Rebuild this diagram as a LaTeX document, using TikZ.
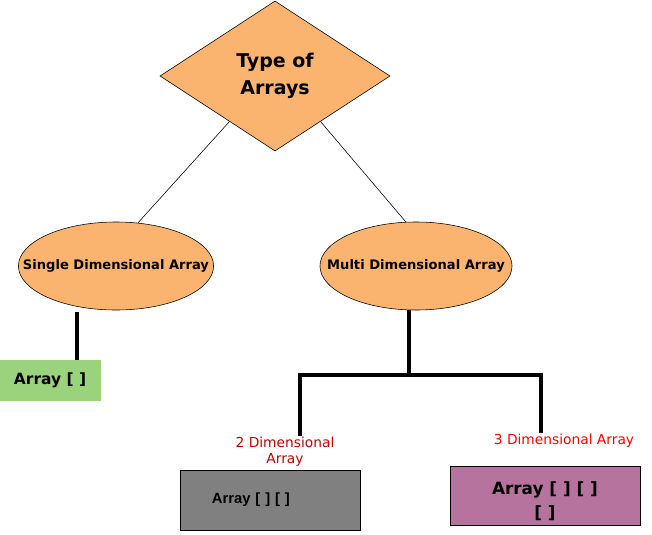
\documentclass[tikz,border=0pt]{standalone}
\usepackage{fontspec}
\setmainfont{DejaVu Sans}
\newfontfamily\boxfont{Liberation Sans}
\usetikzlibrary{shapes.geometric,positioning,calc}
\definecolor{headfill}{HTML}{FBB470}
\definecolor{onefill}{HTML}{9BD27C}
\definecolor{twofill}{HTML}{808080}
\definecolor{threefill}{HTML}{B5739D}
\definecolor{lbldark}{HTML}{C00000}
\definecolor{lblred}{HTML}{FF0000}

\begin{document}
\begin{tikzpicture}[
  x=0.025cm, y=-0.025cm,
  head/.style={
    draw, diamond, fill=headfill, aspect=1.53, inner sep=0pt,
    minimum width=5.75cm, minimum height=3.75cm, align=center,
    font=\fontsize{13.5}{19}\selectfont\bfseries},
  kind/.style={
    draw, ellipse, fill=headfill, inner ysep=0pt, inner xsep=-0.6cm,
    minimum width=4.8cm, minimum height=2.2cm,
    font=\fontsize{9.3}{11}\selectfont\bfseries},
  cell/.style={draw, align=center, inner sep=0pt},
  tag/.style={font=\fontsize{9.8}{11.5}\selectfont, align=center, inner sep=1pt},
  thin/.style={line width=0.4pt},
  bar/.style={line width=2.2pt},
]

\useasboundingbox (0,0) rectangle (652,534);

% ---------- top and the two kinds ----------
\node[head] (types) at (275,76) {Type of\\Arrays};
\node[kind] (single) at (116,266) {Single Dimensional Array};
\node[kind] (multi) at (416,266) {Multi Dimensional Array};

\draw[thin] (types.225) -- (single.63);
\draw[thin] (types.315) -- (multi.103);

% ---------- single dimensional ----------
\node[cell, fill=onefill, draw=onefill, minimum width=2.5cm, minimum height=1cm,
      font=\fontsize{11}{13}\selectfont\bfseries] (arr1) at (50,380) {Array [ ]};
\coordinate (sdrop) at (77,312);
\draw[bar] (sdrop) -- (sdrop |- arr1.north);

% ---------- multi dimensional ----------
\node[tag, text=lbldark] (lbl2) at (285,452) {2 Dimensional\\Array};
\node[tag, text=lblred] (lbl3) at (564,441) {3 Dimensional Array};

\node[cell, fill=twofill, minimum width=4.5cm, minimum height=1.5cm,
      text width=2.9cm, align=left, inner xsep=0.8cm,
      font=\boxfont\fontsize{10.5}{12}\selectfont\bfseries] (arr2) at (270,500)
  {Array [ ] [ ]\vphantom{p}\\[2pt]};
\node[cell, fill=threefill, minimum width=4.75cm, minimum height=1.48cm,
      font=\fontsize{12}{17}\selectfont\bfseries] (arr3) at (545,495.5)
  {\rule{0pt}{17pt}Array [ ] [ ]\\{}[ ]};

\coordinate (hub) at (409,375);
\coordinate (left2) at (300,375);
\coordinate (right3) at (541,375);
\draw[bar] (multi.south -| hub) -- (hub);
\draw[bar] (left2 |- lbl2.north) -- (left2) -- (right3) -- (right3 |- lbl3.north);

\end{tikzpicture}
\end{document}
